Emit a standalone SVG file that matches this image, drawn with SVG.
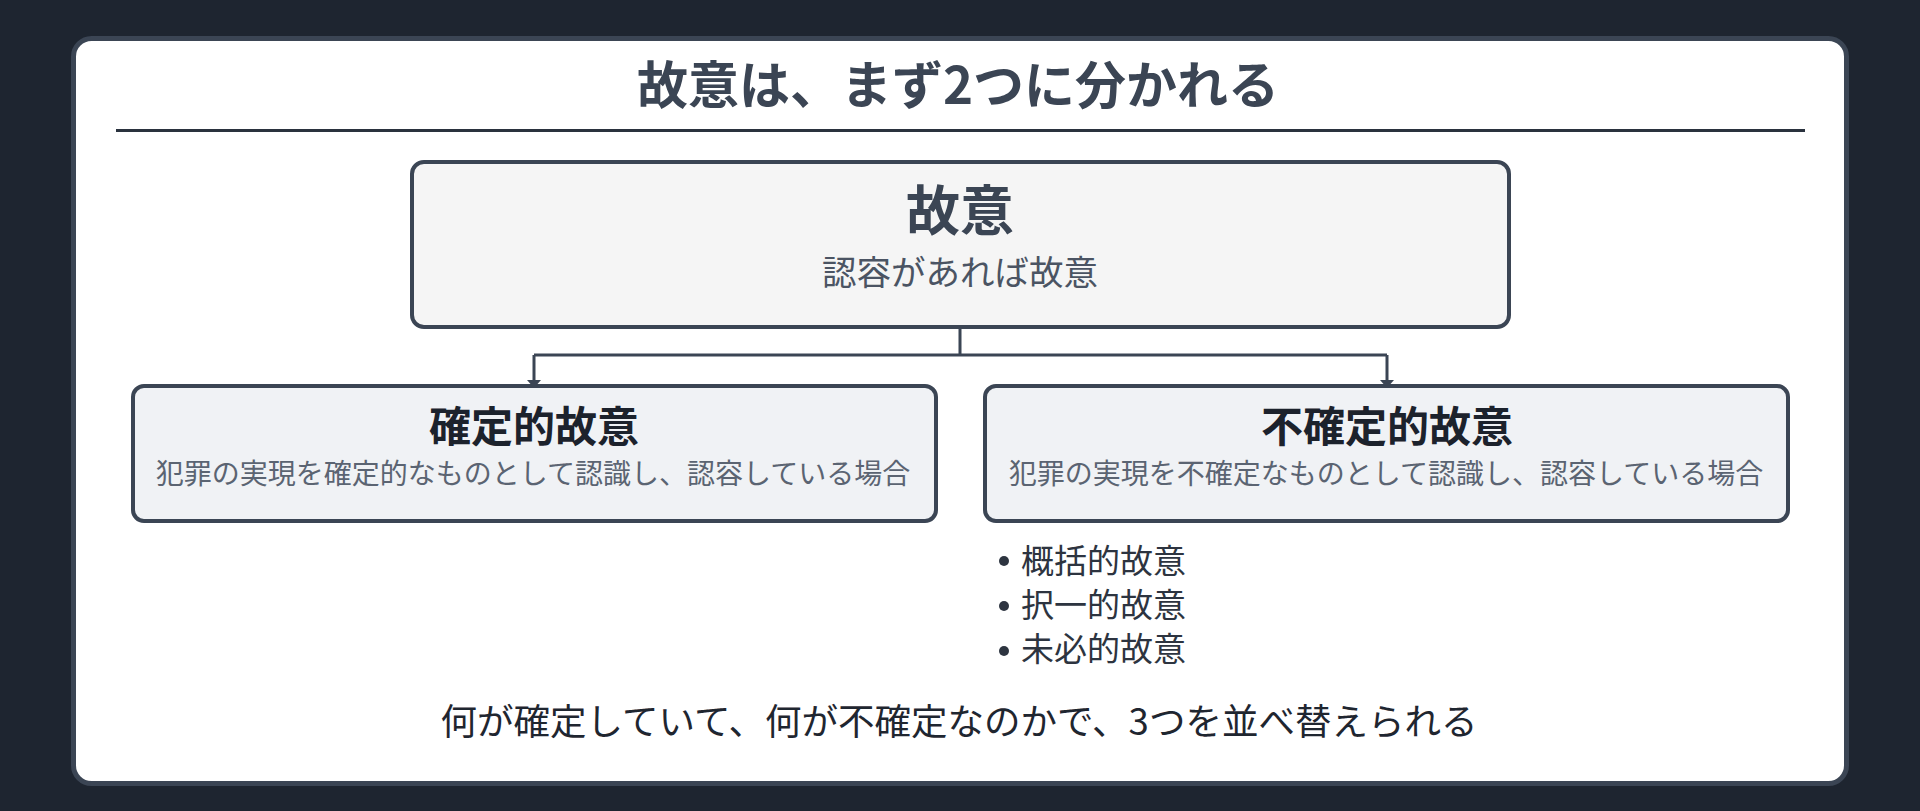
<svg xmlns="http://www.w3.org/2000/svg" width="1920" height="811" viewBox="0 0 1920 811">
<style>
text{font-family:"Noto Sans CJK JP","Noto Sans",sans-serif;}
.title{font-size:51px;font-weight:700;fill:#3b4554;text-anchor:middle;}
.box{stroke:#3b4554;stroke-width:4;}
.top{fill:#f5f5f5;}
.child{fill:#f0f2f5;}
.h1{font-size:54px;font-weight:700;fill:#3b4554;text-anchor:middle;}
.h2{font-size:42px;font-weight:700;fill:#1c222c;text-anchor:middle;}
.sub1{font-size:34.5px;fill:#4b5463;text-anchor:middle;}
.sub2{font-size:28px;fill:#5b6472;text-anchor:middle;}
.item{font-size:33px;fill:#2d3440;}
.note{font-size:36.5px;fill:#1f2630;text-anchor:middle;}
.conn{fill:none;stroke:#3b4554;stroke-width:3;}
</style>
<defs>
<marker id="arr" markerWidth="14" markerHeight="8" refX="7" refY="8" orient="0" markerUnits="userSpaceOnUse">
<path d="M0,0 L14,0 L7,8 Z" fill="#3b4554"/>
</marker>
</defs>
<rect x="0" y="0" width="1920" height="811" fill="#1e2530"/>
<g id="card">
<rect x="73.5" y="38.5" width="1773" height="745" rx="18" fill="#ffffff" stroke="#3b4554" stroke-width="5"/>
<text class="title" x="958" y="104">故意は、まず2つに分かれる</text>
<line x1="116" y1="130.5" x2="1805" y2="130.5" stroke="#2a323e" stroke-width="3"/>
</g>
<g id="connectors">
<path class="conn" d="M960,329 V355 M534,355 H1387"/>
<path class="conn" d="M534,355 V388" marker-end="url(#arr)"/>
<path class="conn" d="M1387,355 V388" marker-end="url(#arr)"/>
</g>
<g id="node-koi">
<rect class="box top" x="412" y="162" width="1097" height="165" rx="12"/>
<text class="h1" x="960" y="231">故意</text>
<text class="sub1" x="960" y="285">認容があれば故意</text>
</g>
<g id="node-kakutei">
<rect class="box child" x="133" y="386" width="803" height="135" rx="11"/>
<text class="h2" x="534" y="442">確定的故意</text>
<text class="sub2" x="533" y="484">犯罪の実現を確定的なものとして認識し、認容している場合</text>
</g>
<g id="node-fukakutei">
<rect class="box child" x="985" y="386" width="803" height="135" rx="11"/>
<text class="h2" x="1387" y="442">不確定的故意</text>
<text class="sub2" x="1386" y="484">犯罪の実現を不確定なものとして認識し、認容している場合</text>
</g>
<g id="list">
<circle cx="1004" cy="561" r="5" fill="#2d3440"/>
<text class="item" x="1021" y="573">概括的故意</text>
<circle cx="1004" cy="606" r="5" fill="#2d3440"/>
<text class="item" x="1021" y="617">択一的故意</text>
<circle cx="1004" cy="651" r="5" fill="#2d3440"/>
<text class="item" x="1021" y="661">未必的故意</text>
</g>
<g id="note">
<text class="note" x="959" y="735">何が確定していて、何が不確定なのかで、3つを並べ替えられる</text>
</g>
</svg>
